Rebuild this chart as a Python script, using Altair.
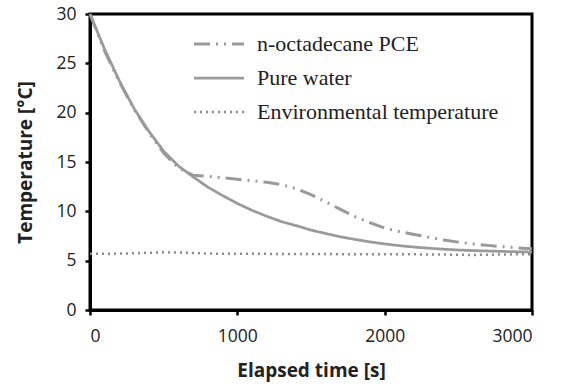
import altair as alt
import pandas as pd

# ---- data ----
times = [0, 100, 200, 300, 400, 500, 600, 700, 800, 900, 1000, 1100, 1200, 1300, 1400,
         1500, 1600, 1700, 1800, 1900, 2000, 2100, 2200, 2300, 2400, 2500, 2600, 2700,
         2800, 2900, 3000]

pce = [30.0, 26.2, 23.1, 20.3, 18.0, 15.9, 14.4, 13.65, 13.55, 13.4, 13.25, 13.1, 12.95,
       12.7, 12.3, 11.7, 10.95, 10.2, 9.45, 8.85, 8.3, 7.95, 7.65, 7.38, 7.1, 6.88, 6.7,
       6.55, 6.42, 6.3, 6.2]

water = [30.0, 26.4, 23.2, 20.4, 18.1, 16.1, 14.6, 13.5, 12.45, 11.6, 10.8, 10.1, 9.5,
         8.95, 8.55, 8.1, 7.75, 7.42, 7.15, 6.9, 6.7, 6.52, 6.38, 6.26, 6.16, 6.08, 6.02,
         5.98, 5.94, 5.9, 5.87]

env = [5.7, 5.7, 5.72, 5.75, 5.8, 5.85, 5.82, 5.78, 5.72, 5.7, 5.7, 5.7, 5.69, 5.68,
       5.68, 5.67, 5.67, 5.66, 5.66, 5.65, 5.65, 5.65, 5.64, 5.63, 5.62, 5.6, 5.58, 5.6,
       5.62, 5.64, 5.65]

series_names = ["n-octadecane PCE", "Pure water", "Environmental temperature"]
series_values = [pce, water, env]
series_colors = ["#9a9a9a", "#9a9a9a", "#8a8a8a"]
series_dash = [[16, 6, 2, 6, 2, 6], [1, 0], [2, 4]]
series_width = [3, 2.5, 2]

x_ticks = [0, 1000, 2000, 3000]
y_ticks = [0, 5, 10, 15, 20, 25, 30]

rows = []
for name, vals in zip(series_names, series_values):
    for t, v in zip(times, vals):
        rows.append({"time": t, "temp": v, "series": name})
df = pd.DataFrame(rows)

chart = (
    alt.Chart(df)
    .mark_line()
    .encode(
        x=alt.X(
            "time:Q",
            scale=alt.Scale(domain=[0, 3000], nice=False),
            axis=alt.Axis(values=x_ticks, format="d", title="Elapsed time [s]", grid=False,
                          labelPadding=12, titlePadding=17),
        ),
        y=alt.Y(
            "temp:Q",
            scale=alt.Scale(domain=[0, 30], nice=False),
            axis=alt.Axis(values=y_ticks, title="Temperature [°C]", grid=False,
                          labelPadding=9, titlePadding=20),
        ),
        color=alt.Color(
            "series:N",
            scale=alt.Scale(domain=series_names, range=series_colors),
            legend=alt.Legend(title=None),
        ),
        strokeDash=alt.StrokeDash(
            "series:N",
            scale=alt.Scale(domain=series_names, range=series_dash),
            legend=alt.Legend(title=None),
        ),
        strokeWidth=alt.StrokeWidth(
            "series:N",
            scale=alt.Scale(domain=series_names, range=series_width),
            legend=None,
        ),
        order=alt.Order("time:Q"),
    )
    .properties(
        width=442,
        height=296,
        autosize=alt.AutoSizeParams(type="none"),
        padding={"left": 90, "top": 14, "right": 36, "bottom": 79},
    )
    .configure_view(stroke="#000000", strokeWidth=3)
    .configure_axis(
        domainColor="#000000",
        domainWidth=3,
        tickColor="#000000",
        tickWidth=2.5,
        tickSize=5,
        labelFont="Open Sans",
        labelFontSize=17.5,
        labelColor="#222222",
        titleFont="Open Sans",
        titleFontSize=19,
        titleFontWeight="bold",
        titleColor="#222222",
    )
    .configure_legend(
        orient="none",
        legendX=118,
        legendY=19,
        padding=0,
        symbolType="M-3,0H3",
        symbolSize=278,
        symbolStrokeWidth=2.5,
        labelOffset=27,
        labelFont="Liberation Serif",
        labelFontSize=22,
        labelColor="#222222",
        rowPadding=12,
        labelLimit=400,
    )
)

chart.save("out.html", embed_options={"renderer": "svg", "actions": False})
